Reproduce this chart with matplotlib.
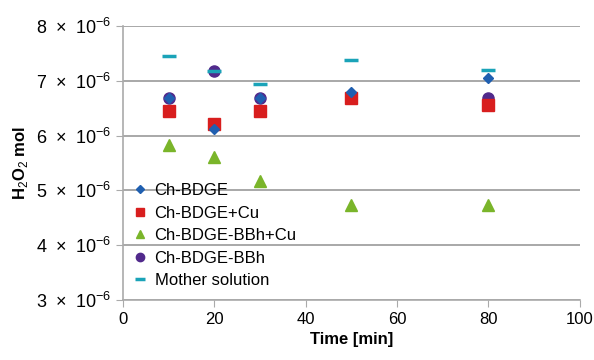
import matplotlib
matplotlib.use("Agg")
import matplotlib.pyplot as plt
from matplotlib.ticker import FuncFormatter

plt.rcParams['font.family'] = ['Liberation Sans', 'DejaVu Sans']
plt.rcParams['mathtext.fontset'] = 'custom'
plt.rcParams['mathtext.rm'] = 'Liberation Sans'

# time points [min]
t = [10, 20, 30, 50, 80]

# H2O2 amounts (x 1e-6 mol)
ch_bdge = [6.68, 6.12, 6.68, 6.80, 7.05]
ch_bdge_cu = [6.45, 6.21, 6.45, 6.68, 6.56]
ch_bdge_bbh_cu = [5.82, 5.61, 5.17, 4.74, 4.74]
ch_bdge_bbh = [6.69, 7.17, 6.69, 6.69, 6.68]
mother = [7.46, 7.17, 6.94, 7.37, 7.20]

def sc(v):
    return [x * 1e-6 for x in v]

fig = plt.figure(figsize=(5.94, 3.6), dpi=100)
ax = fig.add_axes([0.207, 0.167, 0.769, 0.761])

ax.plot(t, sc(ch_bdge), 'D', color='#1f5fb0', ms=5, label='Ch-BDGE', zorder=5)
ax.plot(t, sc(ch_bdge_cu), 's', color='#d81e1e', ms=8, label='Ch-BDGE+Cu', zorder=4)
ax.plot(t, sc(ch_bdge_bbh_cu), '^', color='#7ab52a', ms=8, label='Ch-BDGE-BBh+Cu', zorder=4)
ax.plot(t, sc(ch_bdge_bbh), 'o', color='#512a8c', ms=8, label='Ch-BDGE-BBh', zorder=3)
ax.plot(t, sc(mother), '_', color='#1aa3b8', ms=10, mew=2.5, label='Mother solution', zorder=6)

ax.set_xlim(0, 100)
ax.set_ylim(3e-6, 8e-6)
ax.set_xticks([0, 20, 40, 60, 80, 100])
ax.set_yticks([y * 1e-6 for y in range(3, 9)])

def fmt(v, pos):
    return r'$%d\ \times\ 10^{-6}$' % round(v * 1e6)
ax.yaxis.set_major_formatter(FuncFormatter(fmt))

ax.grid(axis='y', color='#999999', lw=1.2)
ax.set_axisbelow(True)
for s in ['top', 'right']:
    ax.spines[s].set_visible(False)
for s in ['left', 'bottom']:
    ax.spines[s].set_color('#aaaaaa')
    ax.spines[s].set_linewidth(1.2)
ax.tick_params(colors='#aaaaaa', labelcolor='black', length=5)
ax.tick_params(axis='y', labelsize=13)
ax.tick_params(axis='x', labelsize=12)

ax.set_xlabel('Time [min]', fontsize=12, fontweight='bold')
ax.set_ylabel(r'H$_2$O$_2$ mol', fontsize=12, fontweight='bold')

ax.legend(loc='upper left', bbox_to_anchor=(0.0, 0.45), frameon=False, fontsize=12,
          handletextpad=0.3, labelspacing=0.45, borderaxespad=0, handlelength=1.2,
          markerscale=0.75)

fig.savefig('out.png', dpi=100)
